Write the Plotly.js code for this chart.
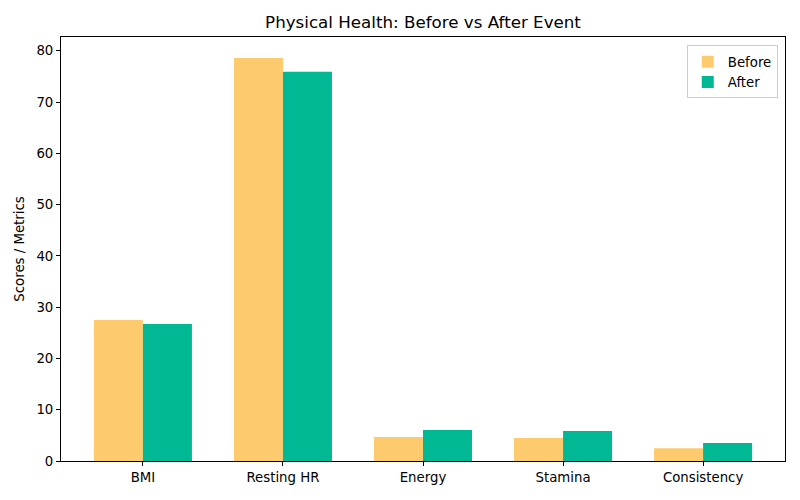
<!DOCTYPE html>
<html><head><meta charset="utf-8">
<script src="https://cdn.plot.ly/plotly-3.0.1.min.js"></script>
<style>body{margin:0;}#chart{width:800px;height:500px;}</style>
</head><body><div id="chart"></div>
<script>
const categories = ["BMI", "Resting HR", "Energy", "Stamina", "Consistency"];
const beforeValues = [27.5, 78.6, 4.7, 4.5, 2.5];
const afterValues = [26.7, 75.9, 6.05, 5.85, 3.5];
const yTicks = [0, 10, 20, 30, 40, 50, 60, 70, 80];

const idx = categories.map((c, i) => i);
const font = {family: "DejaVu Sans, sans-serif", color: "#000", size: 13.3};
const data = [
  {type: "bar", name: "Before", x: idx, y: beforeValues, marker: {color: "#FDCB6E"}},
  {type: "bar", name: "After", x: idx, y: afterValues, marker: {color: "#00B894"}}
];
const layout = {
  width: 800, height: 500,
  margin: {l: 61, r: 15, t: 37, b: 39},
  font: font,
  paper_bgcolor: "#fff", plot_bgcolor: "#fff",
  barmode: "group", bargap: 0.3, bargroupgap: 0,
  title: {text: "Physical Health: Before vs After Event", font: {family: "DejaVu Sans, sans-serif", size: 16.7, color: "#000"}, xref: "paper", x: 0.5, xanchor: "center", y: 0.955, yanchor: "middle"},
  xaxis: {range: [-0.585, 4.585], tickvals: idx, ticktext: categories, showgrid: false, zeroline: false,
    showline: true, linecolor: "#000", linewidth: 1, mirror: true, ticks: "outside", ticklen: 4, tickcolor: "#000", tickfont: font},
  yaxis: {range: [0, 82.7], tickvals: yTicks, showgrid: false, zeroline: false,
    showline: true, linecolor: "#000", linewidth: 1, mirror: true, ticks: "outside", ticklen: 4, tickcolor: "#000", tickfont: font,
    title: {text: "Scores / Metrics", font: font, standoff: 8}},
  legend: {x: 0.99, y: 0.98, xanchor: "right", yanchor: "top", bgcolor: "rgba(255,255,255,0.8)", bordercolor: "#ccc", borderwidth: 1, font: {family: "DejaVu Sans, sans-serif", size: 13.3, color: "#000"}, itemwidth: 30, tracegroupgap: 0},
  showlegend: true
};
Plotly.newPlot("chart", data, layout, {displayModeBar: false, staticPlot: true});
</script></body></html>
